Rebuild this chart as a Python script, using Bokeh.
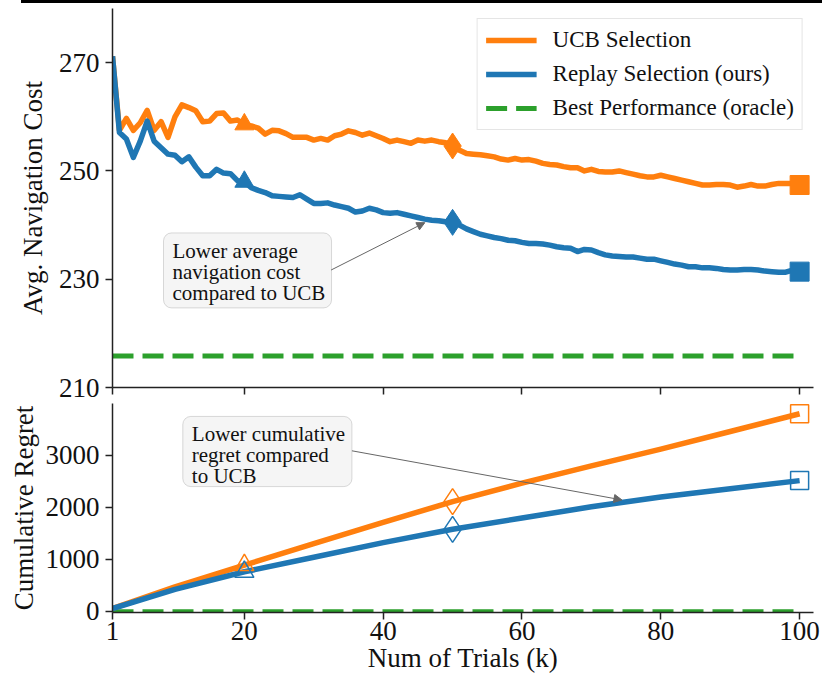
from bokeh.plotting import figure
from bokeh.models import (Range1d, FixedTicker, Label, Arrow, NormalHead, Div, Legend,
                          LegendItem, BoxAnnotation, CustomJSTickFormatter)
from bokeh.layouts import column
from bokeh.embed import file_html
from bokeh.resources import INLINE

trials = list(range(1, 101))
ucb_cost = [271.2, 257.5, 259.7, 257.5, 258.9, 261.2, 257.5, 259.1, 256.2, 260.0,
            262.2, 261.7, 261.1, 259.1, 259.2, 260.6, 260.7, 259.2, 259.4, 258.6,
            258.3, 257.9, 256.8, 257.5, 257.4, 256.9, 256.2, 256.2, 256.2, 255.7,
            256.0, 255.7, 256.5, 256.8, 257.4, 257.1, 256.6, 257.0, 256.5, 256.0,
            255.4, 255.7, 255.4, 255.1, 255.7, 255.5, 255.7, 255.4, 255.2, 254.6,
            253.8, 253.2, 253.1, 253.0, 252.8, 252.6, 252.2, 252.0, 252.3, 252.0,
            252.1, 251.8, 251.4, 251.2, 251.1, 250.8, 250.6, 250.6, 250.0, 250.3,
            249.9, 249.8, 249.8, 250.0, 249.7, 249.4, 249.1, 248.9, 248.9, 249.2,
            248.9, 248.6, 248.3, 248.0, 247.7, 247.4, 247.4, 247.5, 247.5, 247.4,
            247.0, 247.2, 247.5, 247.2, 247.2, 247.5, 247.7, 247.7, 247.7, 247.4]
replay_cost = [271.2, 257.1, 255.9, 252.5, 255.5, 259.2, 255.5, 254.3, 253.1, 252.9,
               251.7, 252.6, 250.7, 249.1, 249.1, 250.3, 249.6, 249.5, 248.2, 248.0,
               246.9, 246.4, 246.0, 245.4, 245.3, 245.2, 245.1, 245.6, 244.8, 244.0,
               244.0, 244.1, 243.7, 243.4, 243.1, 242.4, 242.6, 243.1, 242.8, 242.3,
               242.2, 242.3, 242.0, 241.7, 241.4, 241.1, 240.9, 240.8, 240.6, 240.5,
               240.0, 239.3, 238.8, 238.3, 238.0, 237.7, 237.5, 237.2, 237.1, 236.8,
               236.6, 236.6, 236.5, 236.3, 236.0, 235.8, 235.7, 235.1, 235.5, 235.4,
               234.9, 234.5, 234.3, 234.2, 234.1, 234.1, 233.9, 233.7, 233.7, 233.4,
               233.1, 232.8, 232.6, 232.3, 232.3, 232.1, 232.1, 232.0, 231.8, 231.7,
               231.7, 231.8, 231.8, 231.7, 231.5, 231.4, 231.3, 231.3, 231.7, 231.4]
oracle_cost = 215.8

regret_trials = [1, 10, 20, 30, 40, 50, 60, 70, 80, 90, 100]
ucb_regret = [52, 470, 888, 1300, 1710, 2110, 2465, 2800, 3121, 3460, 3803]
replay_regret = [52, 420, 759, 1040, 1320, 1577, 1795, 2010, 2200, 2360, 2515]
oracle_regret = 0

marker_trials = [20, 50, 100]
marker_shapes = ["triangle", "diamond", "square"]
x_ticks = [1, 20, 40, 60, 80, 100]
top_y_ticks = [210, 230, 250, 270]
bottom_y_ticks = [0, 1000, 2000, 3000]

note_top = ["Lower average", "navigation cost", "compared to UCB"]
note_bottom = ["Lower cumulative", "regret compared", "to UCB"]

ORANGE = "#ff7f0e"
BLUE = "#1f77b4"
GREEN = "#2ca02c"
FONT = "Liberation Serif"


def style(p, yticks):
    p.outline_line_color = None
    p.xgrid.visible = False
    p.ygrid.visible = False
    for ax in (p.xaxis[0], p.yaxis[0]):
        ax.axis_line_color = "#222222"
        ax.axis_line_width = 1.5
        ax.major_tick_line_color = "#222222"
        ax.major_tick_line_width = 1.5
        ax.major_tick_out = 7
        ax.major_tick_in = 0
        ax.minor_tick_out = 0
        ax.minor_tick_in = 0
        ax.major_label_text_font = FONT
        ax.major_label_text_font_size = "27px"
        ax.major_label_text_color = "#111111"
        ax.axis_label_text_font = FONT
        ax.axis_label_text_font_size = "27px"
        ax.axis_label_text_font_style = "normal"
        ax.axis_label_text_color = "#111111"
        ax.major_label_standoff = 6
    p.xaxis[0].ticker = FixedTicker(ticks=x_ticks)
    p.yaxis[0].ticker = FixedTicker(ticks=yticks)


def note(p, lines, left, right, top, bottom, step):
    p.add_layout(BoxAnnotation(left=left, right=right, top=top, bottom=bottom,
                               fill_color="#f5f5f5", fill_alpha=1.0,
                               line_color="#888888", line_width=1, border_radius=8,
                               level="annotation"))
    for j, t in enumerate(lines):
        p.add_layout(Label(x=left, y=top, x_offset=9, y_offset=-6 - j * step, text=t,
                           anchor="top_left", text_font=FONT, text_font_size="21px",
                           text_color="#111111"))


bar = Div(text="", width=801, height=3, margin=(0, 0, 0, 21),
          styles={"background-color": "black"})

# ---------- top panel ----------
p1 = figure(frame_width=701, frame_height=379, x_range=Range1d(1, 102),
            y_range=Range1d(210, 280), output_backend="svg", toolbar_location=None,
            min_border_left=112, min_border_right=8, min_border_top=5,
            min_border_bottom=16)
style(p1, top_y_ticks)
p1.xaxis[0].formatter = CustomJSTickFormatter(code="return ''")
p1.xaxis[0].major_label_standoff = 0
p1.yaxis[0].axis_label = "Avg. Navigation Cost"
p1.yaxis[0].axis_label_standoff = 8

r_ucb = p1.line(trials, ucb_cost, line_color=ORANGE, line_width=5.5, line_join="round")
r_rep = p1.line(trials, replay_cost, line_color=BLUE, line_width=5.5, line_join="round")
r_orc = p1.line([trials[0], trials[-1]], [oracle_cost, oracle_cost], line_color=GREEN,
                line_width=5, line_dash="21 9")

top_sizes = {"triangle": 19, "diamond": 26, "square": 19}
for k, m in zip(marker_trials, marker_shapes):
    i = trials.index(k)
    for ys, c in ((ucb_cost, ORANGE), (replay_cost, BLUE)):
        p1.scatter([k], [ys[i]], marker=m, size=top_sizes[m], fill_color=c,
                   line_color=c, line_width=1)

legend = Legend(items=[LegendItem(label="UCB Selection", renderers=[r_ucb]),
                       LegendItem(label="Replay Selection (ours)", renderers=[r_rep]),
                       LegendItem(label="Best Performance (oracle)", renderers=[r_orc])],
                location="top_right")
legend.label_text_font = FONT
legend.label_text_font_size = "23px"
legend.label_text_color = "#111111"
legend.glyph_width = 51
legend.glyph_height = 24
legend.label_height = 24
legend.label_standoff = 16
legend.spacing = 8
legend.padding = 8
legend.margin = 10
legend.border_line_color = "#cccccc"
legend.border_line_width = 1
legend.background_fill_alpha = 0.85
p1.add_layout(legend)

note(p1, note_top, 8.35, 32.56, 238.55, 224.7, 21)
p1.add_layout(Arrow(x_start=32.5, y_start=231.7, x_end=46.0, y_end=240.45,
                    line_color="#666666", line_width=1,
                    end=NormalHead(size=8, fill_color="#666666", line_color="#666666")))

# ---------- bottom panel ----------
p2 = figure(frame_width=701, frame_height=209, x_range=p1.x_range,
            y_range=Range1d(-25, 4000), output_backend="svg", toolbar_location=None,
            min_border_left=112, min_border_right=8, min_border_top=0,
            min_border_bottom=66)
style(p2, bottom_y_ticks)
p2.xaxis[0].major_label_standoff = 2
p2.yaxis[0].axis_label = "Cumulative Regret"
p2.yaxis[0].axis_label_standoff = 4
p2.xaxis[0].axis_label = "Num of Trials (k)"
p2.xaxis[0].axis_label_standoff = 0

p2.line([trials[0], trials[-1]], [oracle_regret, oracle_regret], line_color=GREEN,
        line_width=4, line_dash="21 9")
p2.line(regret_trials, ucb_regret, line_color=ORANGE, line_width=5.5, line_join="round")
p2.line(regret_trials, replay_regret, line_color=BLUE, line_width=5.5, line_join="round")

bot_sizes = {"triangle": 19, "diamond": 26, "square": 18}
for k, m in zip(marker_trials, marker_shapes):
    i = regret_trials.index(k)
    for ys, c in ((ucb_regret, ORANGE), (replay_regret, BLUE)):
        p2.scatter([k], [ys[i]], marker=m, size=bot_sizes[m], fill_color=None,
                   line_color=c, line_width=1.5)

note(p2, note_bottom, 11.13, 35.5, 3751, 2400, 21)
p2.add_layout(Arrow(x_start=35.5, y_start=3089, x_end=74.4, y_end=2143,
                    line_color="#666666", line_width=1,
                    end=NormalHead(size=8, fill_color="#666666", line_color="#666666")))

layout = column(bar, p1, p2)
open("out.html", "w").write(file_html(layout, INLINE))
